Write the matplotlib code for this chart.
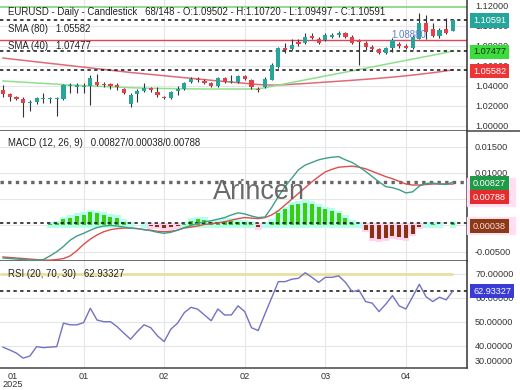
import matplotlib
matplotlib.use('Agg')
import matplotlib.pyplot as plt
from matplotlib.patches import Rectangle
from matplotlib.lines import Line2D
import numpy as np

plt.rcParams['font.family'] = ['Liberation Sans', 'DejaVu Sans']

# candles (68 bars)
opens = [1.0357, 1.0317, 1.0287, 1.0267, 1.0227, 1.0237, 1.0267, 1.0267, 1.0267, 1.0267,
         1.0397, 1.0387, 1.0387, 1.0397, 1.0437, 1.0417, 1.0417, 1.0407, 1.0367, 1.0217,
         1.0317, 1.0347, 1.0377, 1.0337, 1.0287, 1.0277, 1.0347, 1.0367, 1.0437, 1.0467,
         1.0447, 1.0427, 1.0397, 1.0477, 1.0437, 1.0437, 1.0497, 1.0457, 1.0367, 1.0387,
         1.0457, 1.0587, 1.0777, 1.0767, 1.0837, 1.0827, 1.0897, 1.0867, 1.0857, 1.0887,
         1.0907, 1.0927, 1.0887, 1.0857, 1.0827, 1.0787, 1.0767, 1.0727, 1.0777, 1.0817,
         1.0797, 1.0777, 1.0867, 1.1027, 1.0967, 1.0897, 1.0967, 1.09502]
closes = [1.0317, 1.0287, 1.0267, 1.0227, 1.0237, 1.0277, 1.0277, 1.0277, 1.0272, 1.0407,
          1.0407, 1.0407, 1.0397, 1.0477, 1.0407, 1.0407, 1.0397, 1.0387, 1.0327, 1.0307,
          1.0347, 1.0377, 1.0357, 1.0307, 1.0277, 1.0337, 1.0367, 1.0427, 1.0467, 1.0457,
          1.0427, 1.0397, 1.0477, 1.0437, 1.0447, 1.0497, 1.0467, 1.0387, 1.0357, 1.0467,
          1.0607, 1.0777, 1.0757, 1.0807, 1.0817, 1.0887, 1.0877, 1.0827, 1.0907, 1.0907,
          1.0927, 1.0887, 1.0827, 1.0837, 1.0787, 1.0767, 1.0727, 1.0777, 1.0857, 1.0797,
          1.0777, 1.0887, 1.1027, 1.0937, 1.0897, 1.0957, 1.0927, 1.10591]
highs = [1.0407, 1.0327, 1.0297, 1.0287, 1.0257, 1.0287, 1.0327, 1.0287, 1.0287, 1.0417,
         1.0427, 1.0427, 1.0427, 1.0507, 1.0517, 1.0437, 1.0427, 1.0427, 1.0377, 1.0327,
         1.0367, 1.0427, 1.0387, 1.0387, 1.0297, 1.0347, 1.0397, 1.0437, 1.0487, 1.0487,
         1.0467, 1.0437, 1.0487, 1.0487, 1.0507, 1.0507, 1.0507, 1.0467, 1.0387, 1.0487,
         1.0627, 1.0787, 1.0827, 1.0867, 1.0867, 1.0927, 1.0927, 1.0887, 1.0927, 1.0927,
         1.0947, 1.0937, 1.0907, 1.0867, 1.0847, 1.0807, 1.0777, 1.0787, 1.0877, 1.0837,
         1.0817, 1.0907, 1.1127, 1.1107, 1.1027, 1.0977, 1.1077, 1.10720]
lows = [1.0287, 1.0247, 1.0257, 1.0087, 1.0147, 1.0217, 1.0227, 1.0227, 1.0097, 1.0257,
        1.0327, 1.0327, 1.0327, 1.0207, 1.0397, 1.0387, 1.0367, 1.0357, 1.0317, 1.0187,
        1.0237, 1.0337, 1.0337, 1.0287, 1.0272, 1.0267, 1.0307, 1.0357, 1.0427, 1.0437,
        1.0417, 1.0387, 1.0387, 1.0427, 1.0427, 1.0432, 1.0457, 1.0367, 1.0337, 1.0377,
        1.0457, 1.0577, 1.0727, 1.0757, 1.0797, 1.0817, 1.0867, 1.0817, 1.0847, 1.0877,
        1.0887, 1.0877, 1.0817, 1.0607, 1.0757, 1.0757, 1.0722, 1.0717, 1.0737, 1.0777,
        1.0767, 1.0767, 1.0867, 1.0867, 1.0887, 1.0877, 1.0922, 1.09497]

sma80 = [1.0677, 1.0669, 1.0661, 1.0654, 1.0646, 1.0638, 1.0631, 1.0623, 1.0616, 1.0608,
         1.0601, 1.0593, 1.0586, 1.0578, 1.0570, 1.0563, 1.0555, 1.0547, 1.0540, 1.0532,
         1.0526, 1.0519, 1.0513, 1.0506, 1.0500, 1.0493, 1.0487, 1.0480, 1.0474, 1.0467,
         1.0461, 1.0454, 1.0448, 1.0442, 1.0436, 1.0430, 1.0424, 1.0418, 1.0412, 1.0408,
         1.0406, 1.0407, 1.0410, 1.0414, 1.0418, 1.0422, 1.0427, 1.0431, 1.0436, 1.0440,
         1.0445, 1.0449, 1.0454, 1.0459, 1.0464, 1.0469, 1.0474, 1.0480, 1.0486, 1.0492,
         1.0499, 1.0506, 1.0514, 1.0522, 1.0530, 1.0539, 1.0548, 1.05582]
sma40 = [1.0447, 1.0443, 1.0439, 1.0435, 1.0431, 1.0427, 1.0423, 1.0419, 1.0415, 1.0411,
         1.0407, 1.0404, 1.0401, 1.0398, 1.0395, 1.0392, 1.0389, 1.0386, 1.0383, 1.0380,
         1.0378, 1.0376, 1.0374, 1.0373, 1.0372, 1.0371, 1.0370, 1.0369, 1.0368, 1.0368,
         1.0367, 1.0367, 1.0367, 1.0367, 1.0367, 1.0367, 1.0367, 1.0367, 1.0368, 1.0380,
         1.0393, 1.0406, 1.0419, 1.0432, 1.0445, 1.0458, 1.0471, 1.0484, 1.0497, 1.0510,
         1.0523, 1.0536, 1.0549, 1.0562, 1.0575, 1.0588, 1.0601, 1.0614, 1.0627, 1.0640,
         1.0653, 1.0666, 1.0679, 1.0692, 1.0705, 1.0718, 1.0732, 1.07477]

macd = [-0.0062, -0.0063, -0.0064, -0.0065, -0.0066, -0.0066, -0.0065, -0.0058, -0.0050, -0.0040,
        -0.0028, -0.0020, -0.0015, -0.0009, -0.0004, -0.0001, 0.0000, -0.0001, -0.0003, -0.0005,
        -0.0006, -0.0008, -0.0010, -0.0013, -0.0015, -0.0013, -0.0009, -0.0004, 0.0000, 0.0004,
        0.0007, 0.0009, 0.0012, 0.0015, 0.0020, 0.0024, 0.0022, 0.0018, 0.0015, 0.0016,
        0.0034, 0.0055, 0.0074, 0.0090, 0.0106, 0.0115, 0.0120, 0.0125, 0.0128, 0.0130,
        0.0131, 0.0125, 0.0120, 0.0112, 0.0103, 0.0093, 0.0083, 0.0074, 0.0072, 0.0068,
        0.0062, 0.0064, 0.0075, 0.0080, 0.0081, 0.0079, 0.0078, 0.00827]
signal = [-0.0060, -0.0061, -0.0062, -0.0063, -0.0064, -0.0065, -0.0066, -0.0066, -0.0065, -0.0063,
          -0.0058, -0.0048, -0.0036, -0.0026, -0.0018, -0.0012, -0.0008, -0.0006, -0.0005, -0.0005,
          -0.0006, -0.0008, -0.0009, -0.0011, -0.0012, -0.0011, -0.0009, -0.0005, -0.0003, -0.0001,
          0.0002, 0.0003, 0.0005, 0.0007, 0.0010, 0.0013, 0.0015, 0.0014, 0.0013, 0.0015,
          0.0020, 0.0028, 0.0039, 0.0050, 0.0061, 0.0072, 0.0083, 0.0093, 0.0102, 0.0107,
          0.0111, 0.0112, 0.0113, 0.0111, 0.0108, 0.0103, 0.0098, 0.0093, 0.0089, 0.0084,
          0.0079, 0.0077, 0.0077, 0.0078, 0.0079, 0.0079, 0.0079, 0.00788]
hist = [0.0, 0.0, 0.0, 0.0, 0.0, 0.0, 0.0, 0.0002, 0.0004, 0.0012,
        0.0015, 0.0018, 0.0020, 0.0025, 0.0023, 0.0020, 0.0017, 0.0014, 0.0007, 0.0001,
        0.0, 0.0001, -0.0001, -0.0002, -0.0004, -0.0003, -0.0001, 0.0002, 0.0009, 0.0012,
        0.0011, 0.0006, 0.0007, 0.0009, 0.0009, 0.0007, 0.0006, 0.0003, -0.0003, 0.0001,
        0.0007, 0.0024, 0.0031, 0.0039, 0.0041, 0.0043, 0.0041, 0.0035, 0.0031, 0.0028,
        0.0023, 0.0015, 0.0005, 0.0001, -0.0008, -0.0024, -0.0026, -0.0024, -0.0021, -0.0022,
        -0.0024, -0.0016, -0.0002, 0.0001, 0.0002, 0.0001, 0.0, 0.00038]

rsi = [39.5, 38.3, 37.0, 34.9, 35.8, 39.7, 39.3, 39.5, 39.7, 49.5,
       48.8, 48.8, 49.7, 55.7, 50.8, 50.1, 50.1, 48.0, 45.3, 42.8,
       46.0, 48.8, 47.6, 44.2, 41.8, 47.0, 49.5, 53.9, 56.1, 55.3,
       52.9, 50.5, 55.4, 52.9, 52.9, 56.7, 54.3, 47.6, 46.4, 53.3,
       60.0, 66.8, 66.8, 67.8, 68.2, 70.5, 68.6, 66.5, 68.6, 68.6,
       69.2, 66.5, 62.6, 63.3, 58.5, 57.8, 54.3, 57.4, 61.0, 56.7,
       55.4, 60.5, 65.7, 60.5, 58.5, 60.3, 59.2, 62.93]

tick_pos = [1.5, 12, 24, 36, 48, 60]
tick_lab = ['01\n2025', '01', '02', '02', '03', '04']
grid_x = [12, 24, 36, 48, 60]

W, H = 520, 390
fig = plt.figure(figsize=(5.2, 3.9), dpi=100)


def fx(x):
    return x / W


def fy(y):
    return 1 - y / H


ax_p = fig.add_axes([0, fy(130.7), fx(467), 130.7 / H])
ax_m = fig.add_axes([0, fy(261), fx(467), (261 - 130.7) / H])
ax_r = fig.add_axes([0, fy(368), fx(467), (368 - 261) / H])

up_col = '#26a69a'
dn_col = '#e8404a'
grid_col = '#e6e6e6'
x = np.arange(len(closes))
fmt5 = matplotlib.ticker.FormatStrFormatter('%.5f')

for ax in (ax_p, ax_m, ax_r):
    ax.set_xlim(-0.45, 69.1)
    ax.set_facecolor('white')
    ax.spines['left'].set_visible(False)
    ax.spines['top'].set_visible(False)
    ax.spines['right'].set_color('#333333')
    ax.spines['bottom'].set_color('#444444')
    ax.spines['right'].set_linewidth(1.1)
    ax.spines['bottom'].set_linewidth(1.1)
    ax.yaxis.tick_right()
    ax.tick_params(axis='y', length=0, pad=5.8, labelsize=6.6, labelcolor='#333333')
    ax.set_xticks([])

# --- price panel ---
ax_p.set_ylim(0.9950, 1.1257)
ax_p.set_yticks([1.00, 1.02, 1.04, 1.06, 1.08, 1.10, 1.12])
ax_p.yaxis.set_major_formatter(fmt5)
for g in [1.00, 1.02, 1.04, 1.06, 1.08, 1.10, 1.12]:
    ax_p.axhline(g, color=grid_col, lw=0.8, zorder=0)
ax_p.axhline(1.1187, color='#8fdc8f', lw=1.4, zorder=1)
ax_p.axhline(1.0857, color='#dd4455', lw=1.0, zorder=1)
ax_p.plot(x, sma80, color='#e06a78', lw=1.1, zorder=2)
ax_p.plot(x, sma40, color='#8ee08e', lw=1.1, zorder=2)
for lvl in (closes[-1], sma40[-1], sma80[-1]):
    ax_p.axhline(lvl, color='#111111', lw=1.1, ls=(0, (2.2, 2.2)), zorder=3)
for i in x:
    o, c, h, l = opens[i], closes[i], highs[i], lows[i]
    col = up_col if c >= o else dn_col
    ax_p.vlines(i, l, h, color='#333333', lw=0.8, zorder=4)
    body = max(abs(c - o), 0.0008)
    ax_p.bar(i, body, bottom=min(o, c), width=0.62, color=col, zorder=5)

# --- MACD panel ---
ax_m.set_ylim(-0.00677, 0.01805)
# 0.00000 and 0.00500 sit under the value tags in the original
ax_m.set_yticks([-0.005, 0.010, 0.015])
ax_m.yaxis.set_major_formatter(fmt5)
for g in [-0.005, 0.0, 0.005, 0.010, 0.015]:
    ax_m.axhline(g, color=grid_col, lw=0.8, zorder=0)
for i in x:
    v = hist[i]
    if v > 0.00005:
        ax_m.bar(i, v + 0.0009, bottom=-0.0004, width=1.0, color='#b4fff0', zorder=1)
    elif v < -0.00005:
        ax_m.bar(i, v - 0.0009, bottom=0.0004, width=1.0, color='#ffd4f0', zorder=1)
ax_m.bar(x, hist, width=0.6, color=['#3ecc10' if v >= 0 else '#8b3212' for v in hist], zorder=3)
ax_m.axhline(macd[-1], color='#666666', lw=2.4, ls=(0, (1, 1.3)), zorder=2)
ax_m.axhline(hist[-1], color='#111111', lw=1.1, ls=(0, (2.2, 2.2)), zorder=4)
ax_m.plot(x, signal, color='#d9504c', lw=1.0, zorder=5)
ax_m.plot(x, macd, color='#3f9e88', lw=1.0, zorder=5)

# --- RSI panel ---
ax_r.set_ylim(30.8, 75.4)
ax_r.set_yticks([40, 50, 60, 70])
ax_r.yaxis.set_major_formatter(fmt5)
for g in [40, 50, 60, 70]:
    ax_r.axhline(g, color=grid_col, lw=0.8, zorder=0)
ax_r.hlines(70, -0.45, 67, color='#e8e0a2', lw=2.0, zorder=1)
ax_r.axhline(rsi[-1], color='#111111', lw=1.1, ls=(0, (2.2, 2.2)), zorder=2)
ax_r.plot(x, rsi, color='#7272c4', lw=1.0, zorder=3)
ax_r.set_xticks(tick_pos)
ax_r.set_xticklabels(tick_lab)
ax_r.tick_params(axis='x', length=0, pad=3, labelsize=6.6, labelcolor='#333333')
for lbl in ax_r.get_xticklabels():
    lbl.set_linespacing(0.9)
fig.text(fx(475), fy(361), '30.00000', fontsize=6.6, color='#333333', va='center')

for ax in (ax_p, ax_m, ax_r):
    for t in grid_x:
        ax.axvline(t, color=grid_col, lw=0.8, zorder=0)

# separator running under the price labels
fig.add_artist(Line2D([fx(467), 1], [fy(130.7), fy(130.7)], color='#444444', lw=1.1))

# legends
tkw = dict(fontsize=6.9, color='#222222', va='center', ha='left')
fig.text(fx(8), fy(12), 'EURUSD - Daily - Candlestick   68/148 - O:1.09502 - H:1.10720 - L:1.09497 - C:1.10591', **tkw)
fig.text(fx(8), fy(29), 'SMA (80)   1.05582', **tkw)
fig.text(fx(8), fy(46), 'SMA (40)   1.07477', **tkw)
fig.text(fx(8), fy(143), 'MACD (12, 26, 9)   0.00827/0.00038/0.00788', **tkw)
fig.text(fx(8), fy(274), 'RSI (20, 70, 30)   62.93327', **tkw)
fig.text(fx(391), fy(35), '1.08880', fontsize=7, color='#5a80d0', va='center', ha='left', zorder=6)

# value tags on the right, with their soft pink glow
fig.add_artist(Rectangle((fx(467), fy(206)), fx(48), 28 / H, color='#ffe0f3', zorder=2))
fig.add_artist(Rectangle((fx(467), fy(234)), fx(48), 17 / H, color='#ffe0f3', zorder=2))


def tag(y, s, bg, fg='white'):
    fig.text(fx(473), fy(y), s, fontsize=6.6, color=fg, va='center', ha='left', zorder=10,
             bbox=dict(boxstyle='square,pad=0.28', fc=bg, ec='none'))


tag(20.5, '1.10591', '#26a69a')
tag(52, '1.07477', '#3ddc3d', '#123312')
tag(71, '1.05582', '#ee3535')
tag(183, '0.00827', '#1e9a48')
tag(197, '0.00788', '#e52b2b')
tag(226, '0.00038', '#8b3a14', '#ffd6e6')
tag(291, '62.93327', '#3a3ad6')

# watermark
fig.text(fx(259), fy(192), 'Arincen', fontsize=19.5, color='#5a5a5a', alpha=0.9,
         ha='center', va='center', zorder=20)

fig.savefig('out.png', dpi=100)
